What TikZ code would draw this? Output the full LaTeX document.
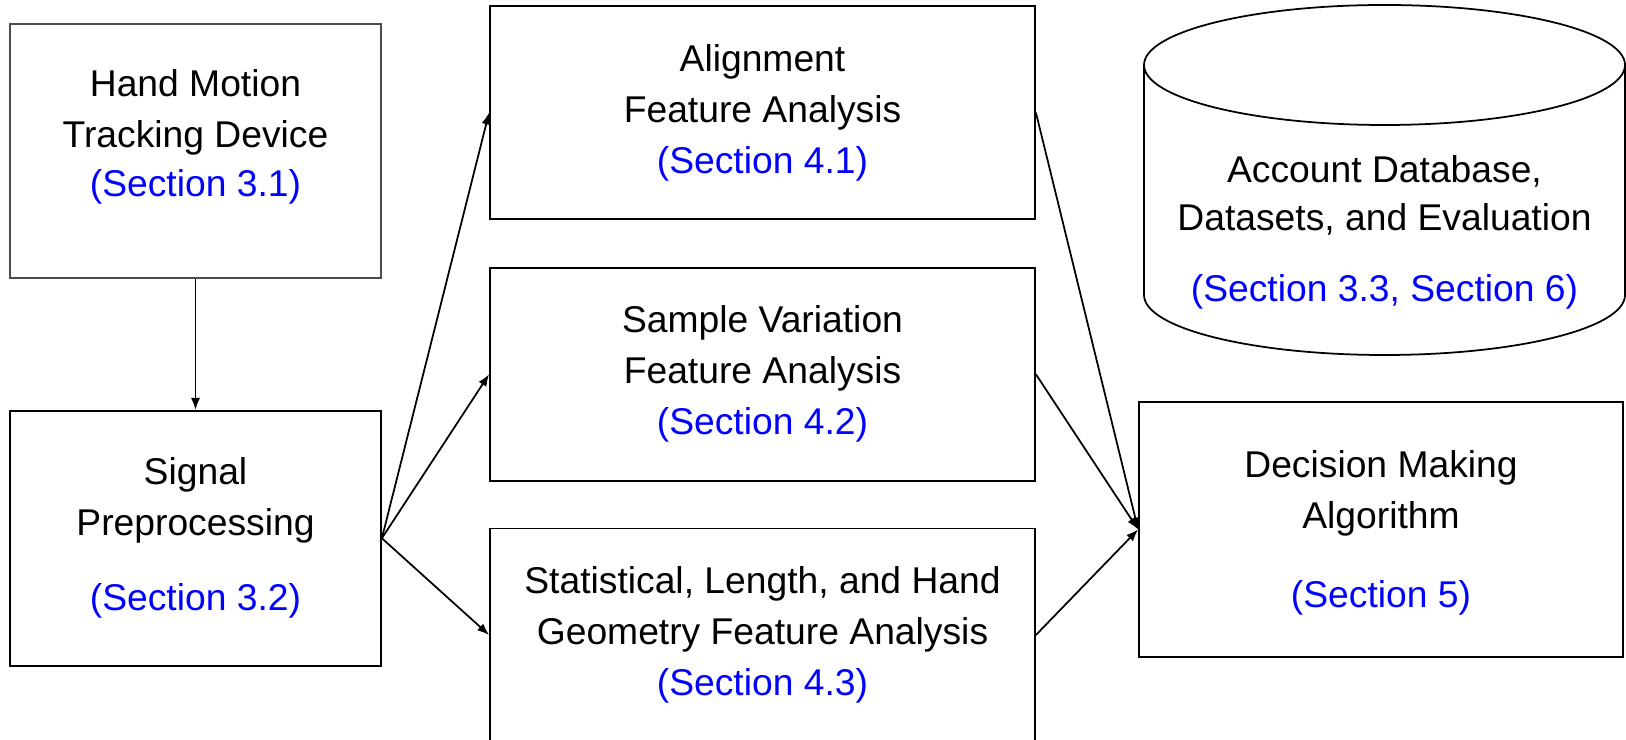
\documentclass[tikz,border=0pt]{standalone}
\usepackage{fontspec}
\setmainfont{Liberation Sans}
\usepackage{tikz}
\usetikzlibrary{positioning,arrows.meta}

\begin{document}
\begin{tikzpicture}[
    box/.style={draw, line width=0.5pt, align=flush center, inner sep=0pt, font=\fontsize{10.6pt}{14.5pt}\selectfont},
    link/.style={-{Latex[length=3.4pt,width=2.6pt]}, line width=0.5pt}]

    \useasboundingbox (0,0) rectangle (16.26,-7.40);

    \node[box, draw=black!70, minimum width=3.71cm, minimum height=2.54cm, text width=3.71cm, text height=8pt, text depth=39pt] (track) at (1.955,-1.51) {Hand Motion\\Tracking Device\\[-0.6pt]\textcolor{blue}{(Section 3.1)}};
    \node[box, minimum width=3.71cm, minimum height=2.55cm, text width=3.71cm, below=1.31cm of track] (signal) {Signal\\Preprocessing\\[6.8pt]\textcolor{blue}{(Section 3.2)}};

    \node[box, minimum width=5.45cm, minimum height=2.13cm, text width=5.45cm] (align) at (7.625,-1.125) {Alignment\\Feature Analysis\\\textcolor{blue}{(Section 4.1)}};
    \node[box, minimum width=5.45cm, minimum height=2.13cm, text width=5.45cm, below=0.47cm of align] (sample) {Sample Variation\\Feature Analysis\\\textcolor{blue}{(Section 4.2)}};
    \node[box, minimum width=5.45cm, minimum height=2.13cm, text width=5.45cm, below=0.46cm of sample] (geometry) {Statistical, Length, and Hand\\Geometry Feature Analysis\\\textcolor{blue}{(Section 4.3)}};

    \node[box, minimum width=4.84cm, minimum height=2.55cm, text width=4.84cm, text height=8pt, text depth=37.8pt] (decision) at (13.81,-5.295) {Decision Making\\Algorithm\\[8.2pt]\textcolor{blue}{(Section 5)}};

    \draw[line width=0.5pt] (11.44,-0.65) -- (11.44,-2.95) arc[start angle=180, end angle=360, x radius=2.405cm, y radius=0.6cm] -- (16.25,-0.65);
    \draw[line width=0.5pt] (13.845,-0.65) ellipse [x radius=2.405cm, y radius=0.6cm];
    \node[align=flush center, text width=4.8cm, anchor=base, font=\fontsize{10.6pt}{14.5pt}\selectfont] (db) at (13.845,-1.825) {Account Database,\\[-0.8pt]Datasets, and Evaluation\\[5.7pt]\textcolor{blue}{(Section 3.3, Section 6)}};

    \draw[link] (track) -- (signal);
    \draw[link] (signal.east) -- (align.west);
    \draw[link] (signal.east) -- (sample.west);
    \draw[link] (signal.east) -- (geometry.west);
    \draw[link] (align.east) -- (decision.west);
    \draw[link] (sample.east) -- (decision.west);
    \draw[link] (geometry.east) -- (decision.west);
\end{tikzpicture}
\end{document}
